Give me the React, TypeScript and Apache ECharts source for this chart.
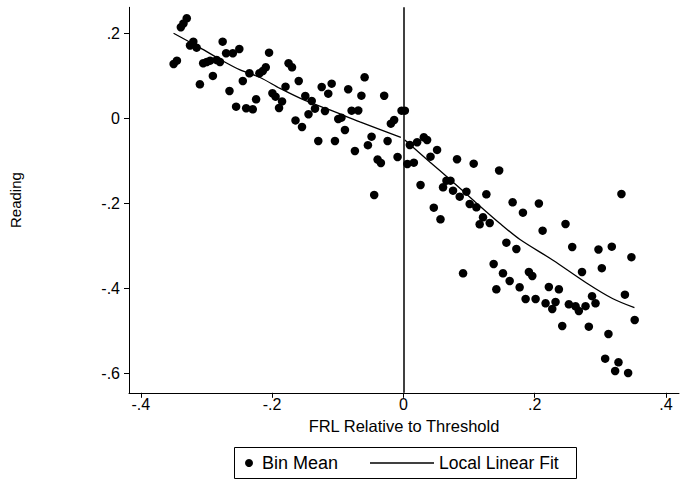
import React, { useEffect, useRef } from "react";
import * as echarts from "echarts";

// Bin means (x = FRL relative to threshold, y = reading)
const binX: number[] = [
  -0.350, -0.345, -0.339, -0.335, -0.330, -0.325, -0.320, -0.315, -0.310, -0.305,
  -0.2995, -0.2944, -0.2902, -0.2844, -0.2794, -0.2753, -0.270, -0.2649, -0.2598, -0.2548,
  -0.2499, -0.2446, -0.2395, -0.2345, -0.2294, -0.2243, -0.2193, -0.2141, -0.2096, -0.2046,
  -0.1995, -0.1947, -0.1894, -0.1848, -0.1795, -0.1749, -0.1696, -0.1643, -0.1594, -0.1544,
  -0.1494, -0.1445, -0.1396, -0.1346, -0.1296, -0.1244, -0.1194, -0.1144, -0.1092, -0.1042,
  -0.0992, -0.0943, -0.0890, -0.0840, -0.0788, -0.0738, -0.0687, -0.0639, -0.0590, -0.0540,
  -0.0484, -0.0444, -0.0392, -0.0342, -0.0292, -0.0240, -0.0190, -0.0140, -0.0088, -0.0027,
  0.0023, 0.0061, 0.0099, 0.0160, 0.0210, 0.0262, 0.0312, 0.0362, 0.0414, 0.0464,
  0.0514, 0.0566, 0.0605, 0.0657, 0.0718, 0.0757, 0.0818, 0.0859, 0.0910, 0.0961,
  0.1011, 0.1072, 0.1113, 0.1163, 0.1214, 0.1265, 0.1316, 0.1376, 0.1417, 0.1460,
  0.1518, 0.1570, 0.1620, 0.1665, 0.1722, 0.1772, 0.1822, 0.1863, 0.1913, 0.1965,
  0.2015, 0.2065, 0.2122, 0.2167, 0.2217, 0.2269, 0.2319, 0.2370, 0.2421, 0.2471,
  0.2522, 0.2573, 0.2624, 0.2674, 0.2722, 0.2776, 0.2826, 0.2875, 0.2928, 0.2973,
  0.3024, 0.3075, 0.3125, 0.3176, 0.3227, 0.3278, 0.3323, 0.3376, 0.3425, 0.3475,
  0.3525,
];
const binY: number[] = [
  0.1287, 0.1365, 0.2151, 0.2240, 0.2362, 0.1722, 0.1812, 0.1671, 0.0809, 0.1304,
  0.1334, 0.1365, 0.1005, 0.1381, 0.1334, 0.1812, 0.1539, 0.0652, 0.1539, 0.0282,
  0.1640, 0.0887, 0.0245, 0.1068, 0.0221, 0.0456, 0.1068, 0.1122, 0.1209, 0.1553,
  0.0598, 0.0518, 0.0252, 0.0405, 0.0753, 0.1304, 0.1209, -0.0042, 0.0887, -0.0195,
  0.0534, 0.0104, 0.0416, 0.0235, -0.0525, 0.0746, 0.0181, 0.0588, 0.0824, -0.0525,
  -0.0007, 0.0024, -0.0266, 0.0692, 0.0188, -0.0760, 0.0193, 0.0541, 0.0974, -0.0624,
  -0.0424, -0.1795, -0.0962, -0.1042, 0.0539, -0.0525, -0.0118, -0.0031, -0.0901, 0.0188,
  0.0188, -0.1066, -0.0619, -0.1035, -0.0555, -0.1560, -0.0438, -0.0501, -0.0894, -0.2094,
  -0.0736, -0.2367, -0.1614, -0.1459, -0.1459, -0.1694, -0.0955, -0.1835, -0.3638, -0.1718,
  -0.2007, -0.1059, -0.2085, -0.2485, -0.2320, -0.1779, -0.2454, -0.3419, -0.4014, -0.1219,
  -0.3638, -0.2918, -0.3819, -0.1967, -0.3066, -0.3967, -0.2212, -0.4242, -0.3607, -0.3701,
  -0.4242, -0.1995, -0.2635, -0.4344, -0.3960, -0.4478, -0.4313, -0.4014, -0.4878, -0.2478,
  -0.4367, -0.3019, -0.4414, -0.4525, -0.3607, -0.4412, -0.4894, -0.4176, -0.4344, -0.3078,
  -0.3518, -0.5647, -0.5066, -0.3012, -0.5936, -0.5732, -0.1772, -0.4141, -0.5984, -0.3259,
  -0.4736,
];

// Local linear fit, left and right of the threshold
const fitLeftX: number[] = [-0.3501, -0.3095, -0.2791, -0.2487, -0.2183, -0.1878, -0.1498, -0.1118, -0.0662, -0.0038];
const fitLeftY: number[] = [0.2009, 0.1664, 0.1393, 0.1146, 0.0969, 0.0711, 0.0428, 0.0205, -0.0078, -0.0442];
const fitRightX: number[] = [0.0023, 0.0403, 0.0707, 0.1087, 0.1468, 0.1772, 0.2274, 0.2791, 0.3186, 0.3521];
const fitRightY: number[] = [-0.0501, -0.1019, -0.1426, -0.1948, -0.2461, -0.2838, -0.3325, -0.3866, -0.4231, -0.4447];

const xTicks: number[] = [-0.4, -0.2, 0, 0.2, 0.4];
const yTicks: number[] = [-0.6, -0.4, -0.2, 0, 0.2];

const FONT = "'Liberation Sans', Arial, Helvetica, sans-serif";

const fmt = (v: number) => {
  const r = Math.round(v * 10) / 10;
  if (r === 0) return "0";
  const s = String(Math.abs(r)).replace(/^0/, "");
  return (r < 0 ? "-" : "") + s;
};

export default function App() {
  const ref = useRef<HTMLDivElement>(null);
  useEffect(() => {
    if (!ref.current) return;
    const chart = echarts.init(ref.current, undefined, { renderer: "svg" });
    const scatterData = binX.map((x, i) => [x, binY[i]]);
    const leftData = fitLeftX.map((x, i) => [x, fitLeftY[i]]);
    const rightData = fitRightX.map((x, i) => [x, fitRightY[i]]);
    chart.setOption({
      animation: false,
      backgroundColor: "#ffffff",
      textStyle: { fontFamily: FONT, color: "#000" },
      grid: { left: 128, top: 7.3, width: 551, height: 385.5, containLabel: false },
      xAxis: {
        type: "value",
        min: -0.418,
        max: 0.42,
        name: "FRL Relative to Threshold",
        nameLocation: "middle",
        nameGap: 22,
        nameTextStyle: { fontFamily: FONT, fontSize: 16.5, color: "#000" },
        axisLine: { show: true, onZero: false, lineStyle: { color: "#000", width: 1 } },
        axisTick: { show: true, length: 5, customValues: xTicks, lineStyle: { color: "#000" } },
        axisLabel: { customValues: xTicks, formatter: fmt, fontFamily: FONT, fontSize: 16, color: "#000", margin: 4 },
        splitLine: { show: false },
      },
      yAxis: {
        type: "value",
        min: -0.645,
        max: 0.262,
        name: "Reading",
        nameLocation: "middle",
        nameGap: 106,
        nameTextStyle: { fontFamily: FONT, fontSize: 15, color: "#000" },
        axisLine: { show: true, onZero: false, lineStyle: { color: "#000", width: 1 } },
        axisTick: { show: true, length: 5, customValues: yTicks, lineStyle: { color: "#000" } },
        axisLabel: { customValues: yTicks, formatter: fmt, fontFamily: FONT, fontSize: 16, color: "#000", margin: 9 },
        splitLine: { show: false },
      },
      legend: [
        {
          data: [{ name: "Bin Mean", icon: "circle" }],
          left: 245,
          top: 454,
          padding: 0,
          itemWidth: 16,
          itemHeight: 8,
          textStyle: { fontFamily: FONT, fontSize: 18, color: "#000" },
          selectedMode: false,
        },
        {
          data: [{ name: "Local Linear Fit", icon: "rect" }],
          left: 370,
          top: 454,
          padding: 0,
          itemWidth: 64,
          itemHeight: 1.3,
          itemStyle: { color: "#000", borderWidth: 0 },
          textStyle: { fontFamily: FONT, fontSize: 17.5, color: "#000" },
          selectedMode: false,
        },
      ],
      graphic: [
        {
          type: "rect",
          shape: { x: 234.5, y: 447.5, width: 342, height: 31 },
          style: { fill: "none", stroke: "#000", lineWidth: 1 },
          silent: true,
        },
      ],
      series: [
        {
          name: "Bin Mean",
          type: "scatter",
          data: scatterData,
          symbol: "circle",
          symbolSize: 8.5,
          itemStyle: { color: "#000", opacity: 1 },
          emphasis: { disabled: true },
          markLine: {
            silent: true,
            symbol: ["none", "none"],
            label: { show: false },
            lineStyle: { color: "#000", width: 1.5, type: "solid" },
            data: [{ xAxis: 0 }],
          },
        },
        {
          name: "Local Linear Fit",
          type: "line",
          data: leftData,
          symbol: "none",
          showSymbol: false,
          smooth: 0.3,
          lineStyle: { color: "#000", width: 1.3 },
          itemStyle: { color: "#000" },
          emphasis: { disabled: true },
        },
        {
          name: "Local Linear Fit",
          type: "line",
          data: rightData,
          symbol: "none",
          showSymbol: false,
          smooth: 0.3,
          lineStyle: { color: "#000", width: 1.3 },
          itemStyle: { color: "#000" },
          emphasis: { disabled: true },
        },
      ],
    });
    return () => chart.dispose();
  }, []);
  return (
    <div
      ref={ref}
      style={{ position: "absolute", left: 0, top: 0, width: 690, height: 481, background: "#fff" }}
    />
  );
}
